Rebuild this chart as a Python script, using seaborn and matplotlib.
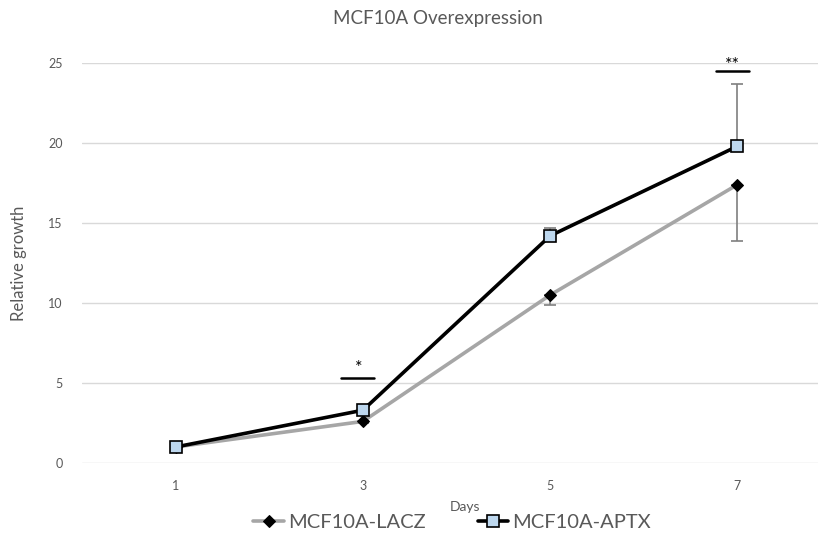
import numpy as np
import pandas as pd
import matplotlib
matplotlib.use("Agg")
import matplotlib.pyplot as plt
import seaborn as sns

# data
days = [1, 3, 5, 7]
lacz = [1.0, 2.6, 10.5, 17.4]
aptx = [1.0, 3.3, 14.2, 19.8]
lacz_err = [0.1, 0.1, 0.6, 3.55]   # shown below the points
aptx_err = [0.1, 0.1, 0.5, 3.9]    # shown above the points
sig_days = [3, 7]
sig_labels = ["*", "**"]

sns.set_style("white")
plt.rcParams["font.family"] = ["Lato", "DejaVu Sans"]
text_col = "#595959"

df = pd.DataFrame({
    "Days": days * 2,
    "Relative growth": lacz + aptx,
    "Series": ["MCF10A-LACZ"] * 4 + ["MCF10A-APTX"] * 4,
})

fig = plt.figure(figsize=(8.18, 5.44), dpi=100)
ax = fig.add_axes([82 / 818, 81 / 544, 1 - 82 / 818, 400 / 544])

# error bars first so markers sit on top
ax.errorbar(days, lacz, yerr=[lacz_err, [0] * 4], fmt="none",
            ecolor="#7f7f7f", elinewidth=1.2, capsize=4, capthick=1.2, zorder=2)
ax.errorbar(days, aptx, yerr=[[0] * 4, aptx_err], fmt="none",
            ecolor="#7f7f7f", elinewidth=1.2, capsize=4, capthick=1.2, zorder=2)

sns.lineplot(data=df[df["Series"] == "MCF10A-LACZ"], x="Days", y="Relative growth",
             ax=ax, color="#a6a6a6", linewidth=2.6, marker="D", markersize=6.5,
             markerfacecolor="black", markeredgecolor="black", label="MCF10A-LACZ",
             zorder=3)
sns.lineplot(data=df[df["Series"] == "MCF10A-APTX"], x="Days", y="Relative growth",
             ax=ax, color="black", linewidth=2.6, marker="s", markersize=8.5,
             markerfacecolor="#bdd7ee", markeredgecolor="black", markeredgewidth=1.2,
             label="MCF10A-APTX", zorder=4)

# significance marks
for d, lab in zip(sig_days, sig_labels):
    i = days.index(d)
    top = aptx[i] + aptx_err[i]
    if d == 3:
        y, off = top + 1.9, 0.35
    else:
        y, off = top + 0.8, 0.05
    ax.plot([d - 0.23, d + 0.12], [y, y], color="black", lw=1.8, clip_on=False, zorder=5)
    ax.text(d - 0.05, y + off, lab, ha="center", va="baseline", fontsize=13,
            color="black", clip_on=False)

ax.set_xlim(0.0, 7.86)
ax.set_ylim(0, 25)
ax.set_xticks(days)
ax.set_yticks(range(0, 26, 5))
ax.yaxis.grid(True, color="#d9d9d9", lw=1)
ax.set_axisbelow(True)
for s in ax.spines.values():
    s.set_visible(False)
ax.tick_params(axis="both", length=0, colors=text_col, labelsize=9)
ax.tick_params(axis="y", pad=14)
ax.tick_params(axis="x", pad=12)

ax.set_xlabel("Days", color=text_col, fontsize=10)
ax.xaxis.set_label_coords((465 - 82) / 736, -0.095)
ax.set_ylabel("Relative growth", color=text_col, fontsize=12)
ax.yaxis.set_label_coords(-0.075, 0.5)
fig.suptitle("MCF10A Overexpression", x=438 / 818, y=1 - 10 / 544, va="top",
             color=text_col, fontsize=13.5)

ax.get_legend().remove()
h, l = ax.get_legend_handles_labels()
fig.legend(h, l, loc="center", bbox_to_anchor=(452 / 818, 1 - 522 / 544), ncol=2,
           frameon=False, fontsize=14.5, handlelength=1.5, handletextpad=0.2,
           columnspacing=2.6, labelcolor=text_col)

fig.savefig("out.png", dpi=100)
